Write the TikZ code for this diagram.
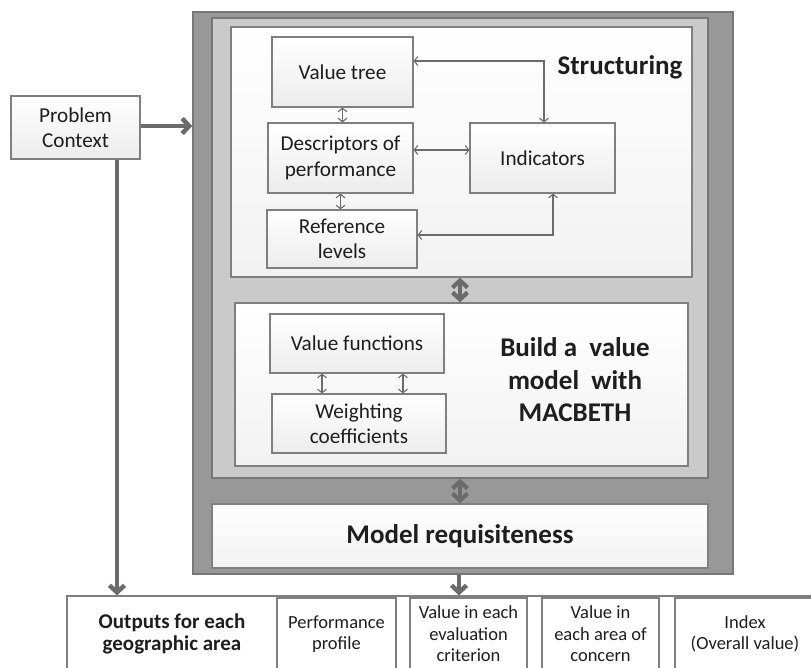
\documentclass[tikz,border=0pt]{standalone}
\usepackage{fontspec}
\setmainfont{Carlito}
\usetikzlibrary{arrows.meta}

\definecolor{edge}{HTML}{7F7F7F}
\definecolor{paneledge}{HTML}{777777}
\definecolor{arrowgray}{HTML}{6B6B6B}
\definecolor{darkpanel}{HTML}{989898}
\definecolor{lightpanel}{HTML}{CACACA}
\definecolor{ink}{HTML}{1E1E1E}
\definecolor{boxbottom}{HTML}{ECECEC}

\begin{document}
\begin{tikzpicture}[x=1pt,y=-1pt,
  panel/.style={draw=paneledge, line width=1.4pt, inner sep=0pt},
  sheet/.style={draw=edge, line width=1.3pt, top color=white, bottom color=boxbottom!70, inner sep=0pt, text=ink},
  stepbox/.style={draw=edge, line width=1.2pt, top color=white, bottom color=boxbottom, inner sep=0pt,
    align=center, text=ink, font=\fontsize{21.2}{25.5}\selectfont},
  outbox/.style={draw=edge, line width=1.1pt, fill=white, inner sep=0pt, align=center, text=ink,
    font=\fontsize{18.5}{21.5}\selectfont},
  title/.style={align=center, text=ink, inner sep=0pt, font=\fontsize{27}{32.5}\selectfont\bfseries},
  thin/.style={draw=arrowgray, line width=1.1pt, {Straight Barb[length=3.5pt,width=9pt]}-{Straight Barb[length=3.5pt,width=9pt]}},
  thick/.style={draw=arrowgray, line width=4.5pt, -{Straight Barb[length=7pt,width=15pt]}},
  twoway/.style={draw=arrowgray, line width=4.2pt, {Straight Barb[length=7pt,width=15pt]}-{Straight Barb[length=7pt,width=15pt]}}
]
\path[use as bounding box, clip] (0,0) rectangle (811,668);

% framework panels
\node[panel, fill=darkpanel, minimum width=540pt, minimum height=562pt] (outer) at (463,293) {};
\node[panel, fill=lightpanel, minimum width=496pt, minimum height=460pt] (inner) at (460,248) {};
\node[sheet, minimum width=461pt, minimum height=250pt] (struct) at (461.5,152) {};
\node[sheet, minimum width=453pt, minimum height=163pt] (build) at (461.5,384.5) {};
\node[sheet, minimum width=496pt, minimum height=64pt, font=\fontsize{27}{32}\selectfont\bfseries] (model) at (460,536) {Model requisiteness};

% section titles
\node[title] (structtitle) at (620,67) {Structuring};
\node[title] (buildtitle) at (575,380) {Build a\ \ value\\model\ \ with\\MACBETH};

% structuring steps
\node[stepbox, minimum width=141pt, minimum height=70pt] (vtree) at (342.5,72) {Value tree};
\node[stepbox, minimum width=145pt, minimum height=70pt] (desc) at (340.5,158) {Descriptors of\\performance};
\node[stepbox, minimum width=150pt, minimum height=58pt] (ref) at (342,239) {Reference\\levels};
\node[stepbox, minimum width=145pt, minimum height=70pt] (ind) at (542.5,158) {Indicators};

% value model steps
\node[stepbox, minimum width=174pt, minimum height=59pt] (vfun) at (357,343.5) {Value functions};
\node[stepbox, minimum width=174pt, minimum height=59pt] (wcoef) at (359,423.5) {Weighting\\coefficients};

% problem context
\node[stepbox, minimum width=129pt, minimum height=63pt] (pctx) at (75.5,127.5) {Problem\\Context};

% outputs row
\node[outbox, minimum width=790pt, minimum height=76pt] (outputs) at (462,634) {};
\node[align=center, text=ink, inner sep=0pt, font=\fontsize{21}{22}\selectfont\bfseries] (outtitle) at (172,634) {Outputs for each\\geographic area};
\node[outbox, minimum width=119pt, minimum height=72pt] (perf) at (336.5,634) {Performance\\profile};
\node[outbox, minimum width=117pt, minimum height=72pt] (vcrit) at (468.5,634) {Value in each\\evaluation\\criterion};
\node[outbox, minimum width=117pt, minimum height=72pt] (varea) at (600.5,634) {Value in\\each area of\\concern};
\node[outbox, minimum width=140pt, minimum height=72pt] (index) at (745,634) {Index\\(Overall value)};

% links inside structuring
\draw[thin] (vtree.south) -- (vtree.south |- desc.north);
\draw[thin] (desc.south) -- (desc.south |- ref.north);
\draw[thin] ([yshift=8pt]desc.east) -- ([yshift=8pt]desc.east -| ind.west);
\draw[thin] ([yshift=11pt]vtree.east) -| ([xshift=1.5pt]ind.north);
\draw[thin] ([yshift=4pt]ref.east) -| ([xshift=10.5pt]ind.south);

% links inside value model
\draw[thin] ([xshift=-35pt]vfun.south) -- ([xshift=-35pt]vfun.south |- wcoef.north);
\draw[thin] ([xshift=46pt]vfun.south) -- ([xshift=46pt]vfun.south |- wcoef.north);

% links between stages
\draw[twoway] ([xshift=-1.5pt]struct.south) -- ([xshift=-1.5pt]struct.south |- build.north);
\draw[twoway] (inner.south) -- (inner.south |- model.north);

% flows in and out
\draw[thick] ([yshift=1.5pt]pctx.east) -- ([yshift=1.5pt]pctx.east -| outer.west);
\draw[thick] ([xshift=41.5pt]pctx.south) -- ([xshift=41.5pt]pctx.south |- outputs.north);
\draw[thick] ([xshift=-4pt]outer.south) -- ([xshift=-4pt]outer.south |- outputs.north);
\end{tikzpicture}
\end{document}
